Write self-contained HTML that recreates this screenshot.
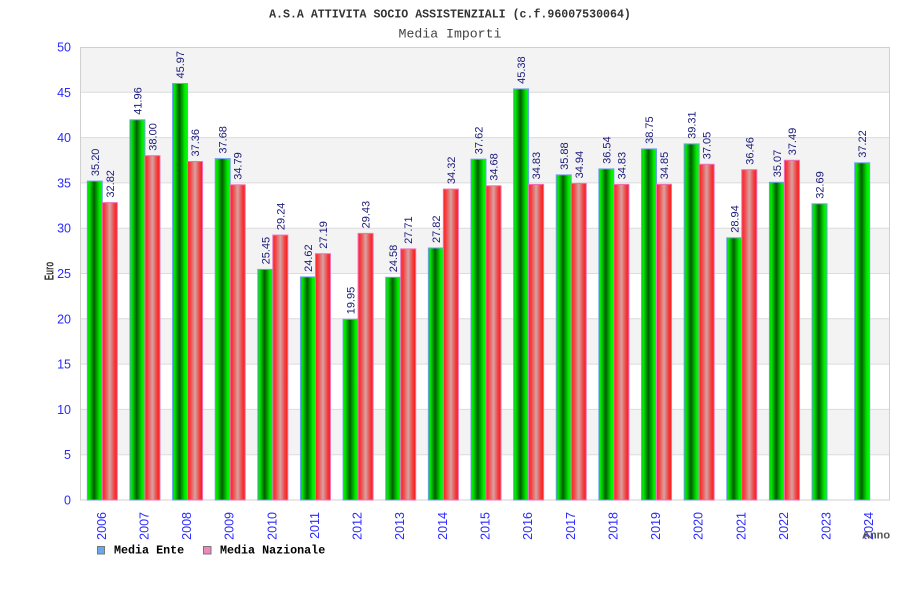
<!DOCTYPE html>
<html><head><meta charset="utf-8"><style>
html,body{margin:0;padding:0;background:#fff;}
svg{display:block;}
.vl{font-family:"Liberation Sans",sans-serif;font-size:11px;fill:#1a1a78;}
.yt{font-family:"Liberation Sans",sans-serif;font-size:12.5px;fill:#2a2aff;text-anchor:end;}
.xt{font-family:"Liberation Sans",sans-serif;font-size:12.5px;fill:#2a2aff;text-anchor:end;}
.g{fill:url(#gg);stroke:#6f9ff0;stroke-width:1;}
.r{fill:url(#rg);stroke:#f070b8;stroke-width:1;}
</style></head><body>
<svg width="900" height="600" viewBox="0 0 900 600" xmlns="http://www.w3.org/2000/svg">
<defs>
<linearGradient id="gg" x1="0" y1="0" x2="1" y2="0">
<stop offset="0" stop-color="#00c800"/><stop offset="0.12" stop-color="#00ee00"/><stop offset="0.45" stop-color="#005c00"/><stop offset="0.82" stop-color="#00ee00"/><stop offset="1" stop-color="#00ff00"/>
</linearGradient>
<linearGradient id="rg" x1="0" y1="0" x2="1" y2="0">
<stop offset="0" stop-color="#ff2020"/><stop offset="0.2" stop-color="#f04848"/><stop offset="0.5" stop-color="#d8a2a2"/><stop offset="0.8" stop-color="#f04040"/><stop offset="1" stop-color="#ff1515"/>
</linearGradient>
</defs>
<rect x="0" y="0" width="900" height="600" fill="#fff"/>
<text x="450" y="17.5" text-anchor="middle" font-family="Liberation Mono, monospace" font-weight="bold" font-size="11.6" fill="#333">A.S.A ATTIVITA SOCIO ASSISTENZIALI (c.f.96007530064)</text>
<text x="450" y="37.5" text-anchor="middle" font-family="Liberation Mono, monospace" font-size="13.2" fill="#444">Media Importi</text>

<!-- bands -->
<rect x="80" y="47" width="810" height="45.3" fill="#f3f3f3"/>
<rect x="80" y="137.6" width="810" height="45.3" fill="#f3f3f3"/>
<rect x="80" y="228.2" width="810" height="45.3" fill="#f3f3f3"/>
<rect x="80" y="318.8" width="810" height="45.3" fill="#f3f3f3"/>
<rect x="80" y="409.4" width="810" height="45.3" fill="#f3f3f3"/>
<g stroke="#dcdcdc" stroke-width="1">
<line x1="80" y1="454.7" x2="890" y2="454.7"/>
<line x1="80" y1="409.4" x2="890" y2="409.4"/>
<line x1="80" y1="364.1" x2="890" y2="364.1"/>
<line x1="80" y1="318.8" x2="890" y2="318.8"/>
<line x1="80" y1="273.5" x2="890" y2="273.5"/>
<line x1="80" y1="228.2" x2="890" y2="228.2"/>
<line x1="80" y1="182.9" x2="890" y2="182.9"/>
<line x1="80" y1="137.6" x2="890" y2="137.6"/>
<line x1="80" y1="92.3" x2="890" y2="92.3"/>
</g>
<rect x="80.5" y="47.5" width="809" height="452.5" fill="none" stroke="#d0d0d0" stroke-width="1"/>

<!-- y ticks -->
<text class="yt" x="71" y="504.5">0</text>
<text class="yt" x="71" y="459.2">5</text>
<text class="yt" x="71" y="413.9">10</text>
<text class="yt" x="71" y="368.6">15</text>
<text class="yt" x="71" y="323.3">20</text>
<text class="yt" x="71" y="278">25</text>
<text class="yt" x="71" y="232.7">30</text>
<text class="yt" x="71" y="187.4">35</text>
<text class="yt" x="71" y="142.1">40</text>
<text class="yt" x="71" y="96.8">45</text>
<text class="yt" x="71" y="51.5">50</text>

<text transform="translate(53.5,271) rotate(-90)" text-anchor="middle" font-family="Liberation Sans, sans-serif" font-weight="bold" font-size="12.5" fill="#333" textLength="18.5" lengthAdjust="spacingAndGlyphs">Euro</text>

<!-- bars green -->
<rect class="g" x="87.3" y="181.1" width="15" height="318.9"/>
<rect class="g" x="129.93" y="119.8" width="15" height="380.2"/>
<rect class="g" x="172.56" y="83.5" width="15" height="416.5"/>
<rect class="g" x="215.2" y="158.6" width="15" height="341.4"/>
<rect class="g" x="257.83" y="269.4" width="15" height="230.6"/>
<rect class="g" x="300.46" y="276.9" width="15" height="223.1"/>
<rect class="g" x="343.09" y="319.3" width="15" height="180.7"/>
<rect class="g" x="385.72" y="277.3" width="15" height="222.7"/>
<rect class="g" x="428.36" y="248" width="15" height="252"/>
<rect class="g" x="470.99" y="159.2" width="15" height="340.8"/>
<rect class="g" x="513.62" y="88.9" width="15" height="411.1"/>
<rect class="g" x="556.25" y="174.9" width="15" height="325.1"/>
<rect class="g" x="598.88" y="168.9" width="15" height="331.1"/>
<rect class="g" x="641.52" y="148.9" width="15" height="351.1"/>
<rect class="g" x="684.15" y="143.9" width="15" height="356.1"/>
<rect class="g" x="726.78" y="237.8" width="15" height="262.2"/>
<rect class="g" x="769.41" y="182.3" width="15" height="317.7"/>
<rect class="g" x="812.04" y="203.8" width="15" height="296.2"/>
<rect class="g" x="854.68" y="162.8" width="15" height="337.2"/>

<!-- bars red -->
<rect class="r" x="102.3" y="202.6" width="15" height="297.4"/>
<rect class="r" x="144.93" y="155.7" width="15" height="344.3"/>
<rect class="r" x="187.56" y="161.5" width="15" height="338.5"/>
<rect class="r" x="230.2" y="184.8" width="15" height="315.2"/>
<rect class="r" x="272.83" y="235.1" width="15" height="264.9"/>
<rect class="r" x="315.46" y="253.7" width="15" height="246.3"/>
<rect class="r" x="358.09" y="233.4" width="15" height="266.6"/>
<rect class="r" x="400.72" y="248.9" width="15" height="251.1"/>
<rect class="r" x="443.36" y="189.1" width="15" height="310.9"/>
<rect class="r" x="485.99" y="185.8" width="15" height="314.2"/>
<rect class="r" x="528.62" y="184.4" width="15" height="315.6"/>
<rect class="r" x="571.25" y="183.4" width="15" height="316.6"/>
<rect class="r" x="613.88" y="184.4" width="15" height="315.6"/>
<rect class="r" x="656.52" y="184.3" width="15" height="315.7"/>
<rect class="r" x="699.15" y="164.3" width="15" height="335.7"/>
<rect class="r" x="741.78" y="169.7" width="15" height="330.3"/>
<rect class="r" x="784.41" y="160.3" width="15" height="339.7"/>

<!-- value labels green -->
<text class="vl" transform="translate(98.8,176.1) rotate(-90)">35.20</text>
<text class="vl" transform="translate(141.43,114.8) rotate(-90)">41.96</text>
<text class="vl" transform="translate(184.06,78.5) rotate(-90)">45.97</text>
<text class="vl" transform="translate(226.7,153.6) rotate(-90)">37.68</text>
<text class="vl" transform="translate(269.33,264.4) rotate(-90)">25.45</text>
<text class="vl" transform="translate(311.96,271.9) rotate(-90)">24.62</text>
<text class="vl" transform="translate(354.59,314.3) rotate(-90)">19.95</text>
<text class="vl" transform="translate(397.22,272.3) rotate(-90)">24.58</text>
<text class="vl" transform="translate(439.86,243) rotate(-90)">27.82</text>
<text class="vl" transform="translate(482.49,154.2) rotate(-90)">37.62</text>
<text class="vl" transform="translate(525.12,83.9) rotate(-90)">45.38</text>
<text class="vl" transform="translate(567.75,169.9) rotate(-90)">35.88</text>
<text class="vl" transform="translate(610.38,163.9) rotate(-90)">36.54</text>
<text class="vl" transform="translate(653.02,143.9) rotate(-90)">38.75</text>
<text class="vl" transform="translate(695.65,138.9) rotate(-90)">39.31</text>
<text class="vl" transform="translate(738.28,232.8) rotate(-90)">28.94</text>
<text class="vl" transform="translate(780.91,177.3) rotate(-90)">35.07</text>
<text class="vl" transform="translate(823.54,198.8) rotate(-90)">32.69</text>
<text class="vl" transform="translate(866.18,157.8) rotate(-90)">37.22</text>

<!-- value labels red -->
<text class="vl" transform="translate(113.8,197.6) rotate(-90)">32.82</text>
<text class="vl" transform="translate(156.43,150.7) rotate(-90)">38.00</text>
<text class="vl" transform="translate(199.06,156.5) rotate(-90)">37.36</text>
<text class="vl" transform="translate(241.7,179.8) rotate(-90)">34.79</text>
<text class="vl" transform="translate(284.33,230.1) rotate(-90)">29.24</text>
<text class="vl" transform="translate(326.96,248.7) rotate(-90)">27.19</text>
<text class="vl" transform="translate(369.59,228.4) rotate(-90)">29.43</text>
<text class="vl" transform="translate(412.22,243.9) rotate(-90)">27.71</text>
<text class="vl" transform="translate(454.86,184.1) rotate(-90)">34.32</text>
<text class="vl" transform="translate(497.49,180.8) rotate(-90)">34.68</text>
<text class="vl" transform="translate(540.12,179.4) rotate(-90)">34.83</text>
<text class="vl" transform="translate(582.75,178.4) rotate(-90)">34.94</text>
<text class="vl" transform="translate(625.38,179.4) rotate(-90)">34.83</text>
<text class="vl" transform="translate(668.02,179.3) rotate(-90)">34.85</text>
<text class="vl" transform="translate(710.65,159.3) rotate(-90)">37.05</text>
<text class="vl" transform="translate(753.28,164.7) rotate(-90)">36.46</text>
<text class="vl" transform="translate(795.91,155.3) rotate(-90)">37.49</text>

<!-- x labels -->
<text class="xt" transform="translate(105.8,512) rotate(-90)">2006</text>
<text class="xt" transform="translate(148.4,512) rotate(-90)">2007</text>
<text class="xt" transform="translate(191.1,512) rotate(-90)">2008</text>
<text class="xt" transform="translate(233.7,512) rotate(-90)">2009</text>
<text class="xt" transform="translate(276.3,512) rotate(-90)">2010</text>
<text class="xt" transform="translate(319,512) rotate(-90)">2011</text>
<text class="xt" transform="translate(361.6,512) rotate(-90)">2012</text>
<text class="xt" transform="translate(404.2,512) rotate(-90)">2013</text>
<text class="xt" transform="translate(446.9,512) rotate(-90)">2014</text>
<text class="xt" transform="translate(489.5,512) rotate(-90)">2015</text>
<text class="xt" transform="translate(532.1,512) rotate(-90)">2016</text>
<text class="xt" transform="translate(574.8,512) rotate(-90)">2017</text>
<text class="xt" transform="translate(617.4,512) rotate(-90)">2018</text>
<text class="xt" transform="translate(660,512) rotate(-90)">2019</text>
<text class="xt" transform="translate(702.7,512) rotate(-90)">2020</text>
<text class="xt" transform="translate(745.3,512) rotate(-90)">2021</text>
<text class="xt" transform="translate(787.9,512) rotate(-90)">2022</text>
<text class="xt" transform="translate(830.6,512) rotate(-90)">2023</text>
<text class="xt" transform="translate(873.2,512) rotate(-90)">2024</text>

<text x="862" y="538.5" font-family="Liberation Sans, sans-serif" font-weight="bold" font-size="11" fill="#555">Anno</text>

<!-- legend -->
<rect x="97.5" y="546.5" width="7" height="7.5" fill="#66aaee" stroke="#777" stroke-width="1"/>
<text x="114" y="553.5" font-family="Liberation Mono, monospace" font-weight="bold" font-size="11.7" fill="#000">Media Ente</text>
<rect x="203.5" y="546.5" width="7.5" height="7.5" fill="#ee88bb" stroke="#777" stroke-width="1"/>
<text x="220" y="553.5" font-family="Liberation Mono, monospace" font-weight="bold" font-size="11.7" fill="#000">Media Nazionale</text>
</svg>
</body></html>
